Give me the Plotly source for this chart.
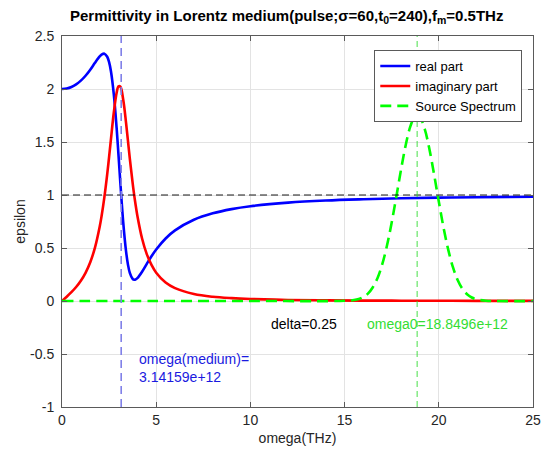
import plotly.graph_objects as go

# Lorentz-medium permittivity sampled over angular frequency (THz)
omega = [0, 0.25, 0.5, 0.75, 1.0, 1.25, 1.5, 1.75, 2.0, 2.1, 2.25, 2.4, 2.5, 2.6,
         2.75, 2.9, 3.0, 3.1, 3.25, 3.4, 3.5, 3.6, 3.75, 3.8, 3.9, 4.0, 4.25, 4.5,
         4.75, 5.0, 5.5, 6.0, 7.0, 8.0, 9.0, 10.0, 12.0, 14.0, 16.0, 18.0, 20.0,
         22.0, 25.0]
eps_real = [2.0, 2.005, 2.019, 2.044, 2.079, 2.125, 2.182, 2.247, 2.307, 2.324,
            2.333, 2.304, 2.253, 2.165, 1.950, 1.630, 1.374, 1.108, 0.742, 0.468,
            0.345, 0.266, 0.208, 0.202, 0.202, 0.215, 0.276, 0.350, 0.422, 0.486,
            0.590, 0.666, 0.766, 0.827, 0.867, 0.894, 0.928, 0.948, 0.960, 0.969,
            0.975, 0.979, 0.984]
eps_imag = [0.0, 0.040, 0.083, 0.132, 0.191, 0.266, 0.366, 0.503, 0.700, 0.800,
            0.980, 1.196, 1.359, 1.530, 1.778, 1.965, 2.025, 2.021, 1.898, 1.680,
            1.512, 1.344, 1.112, 1.042, 0.915, 0.805, 0.590, 0.442, 0.340, 0.267,
            0.174, 0.121, 0.066, 0.040, 0.027, 0.019, 0.010, 0.006, 0.004, 0.003,
            0.002, 0.0015, 0.001]

# Source spectrum of the Gaussian pulse
omega_src = [0, 5, 10, 15.0, 15.5, 15.75, 16.0, 16.25, 16.5, 16.75, 17.0, 17.25,
             17.5, 17.75, 18.0, 18.25, 18.5, 18.75, 19.0, 19.25, 19.5, 19.75,
             20.0, 20.25, 20.5, 20.75, 21.0, 21.25, 21.5, 21.75, 22.0, 22.5, 25.0]
spectrum = [0, 0, 0, 0.002, 0.009, 0.019, 0.038, 0.072, 0.130, 0.218, 0.348,
            0.523, 0.741, 0.989, 1.244, 1.476, 1.652, 1.742, 1.732, 1.623, 1.434,
            1.194, 0.938, 0.694, 0.485, 0.319, 0.198, 0.116, 0.064, 0.033, 0.016,
            0.003, 0]

omega_medium = 3.14159
omega0 = 18.8496
delta = 0.25
x_range = [0, 25]
y_range = [-1, 2.5]
x_ticks = [0, 5, 10, 15, 20, 25]
x_tick_labels = ["0", "5", "10", "15", "20", "25"]
y_ticks = [-1, -0.5, 0, 0.5, 1, 1.5, 2, 2.5]
y_tick_labels = ["-1", "-0.5", "0", "0.5", "1", "1.5", "2", "2.5"]

FONT = "Liberation Sans, Arial, sans-serif"

fig = go.Figure()
fig.add_trace(go.Scatter(x=omega, y=eps_real, mode="lines", name="real part",
                         line=dict(color="#0000ff", width=2.6, shape="spline")))
fig.add_trace(go.Scatter(x=omega, y=eps_imag, mode="lines", name="imaginary part",
                         line=dict(color="#ff0000", width=2.6, shape="spline")))
fig.add_trace(go.Scatter(x=omega_src, y=spectrum, mode="lines", name="Source Spectrum",
                         line=dict(color="#00ff00", width=2.6, dash="11px,6px",
                                   shape="spline")))

# reference lines: eps = 1, resonance frequency, pulse centre frequency
fig.add_trace(go.Scatter(x=x_range, y=[1, 1], mode="lines", showlegend=False,
                         line=dict(color="#000000", width=0.9, dash="7px,4px")))
fig.add_trace(go.Scatter(x=[omega_medium, omega_medium], y=y_range, mode="lines",
                         showlegend=False,
                         line=dict(color="#8080e8", width=1.6, dash="8px,5px")))
fig.add_trace(go.Scatter(x=[omega0, omega0], y=y_range, mode="lines",
                         showlegend=False,
                         line=dict(color="#33dd33", width=0.9, dash="6px,4px")))

fig.add_annotation(x=3.96, y=-0.63, xref="x", yref="y", xanchor="left",
                   yanchor="middle", showarrow=False, align="left",
                   text="omega(medium)=<br>%ge+12" % omega_medium,
                   font=dict(color="#1a1ae0", size=14, family=FONT))
fig.add_annotation(x=11.0, y=-0.215, xref="x", yref="y", xanchor="left",
                   yanchor="middle", showarrow=False,
                   text="delta=%g" % delta,
                   font=dict(color="#000000", size=14, family=FONT))
fig.add_annotation(x=16.1, y=-0.215, xref="x", yref="y", xanchor="left",
                   yanchor="middle", showarrow=False,
                   text="omega0=%ge+12" % omega0,
                   font=dict(color="#33dd33", size=14, family=FONT))

axis_common = dict(
    showgrid=True, gridcolor="#e3e3e3", gridwidth=1,
    showline=True, linecolor="#5a5a5a", linewidth=1, mirror="ticks",
    ticks="inside", ticklen=5, tickcolor="#5a5a5a", zeroline=False,
    automargin=False,
    tickfont=dict(size=14, color="#262626", family=FONT),
)

fig.update_layout(
    width=542, height=453,
    margin=dict(l=62, r=9, t=36, b=46),
    paper_bgcolor="white", plot_bgcolor="white",
    title=dict(
        text="<b>Permittivity in Lorentz medium(pulse;σ=60,t<sub>0</sub>=240),"
             "f<sub>m</sub>=0.5THz</b>",
        x=0.529, xanchor="center", y=0.965, yanchor="middle",
        font=dict(size=15, color="#000000", family=FONT)),
    xaxis=dict(range=x_range, tickvals=x_ticks, ticktext=x_tick_labels,
               title=dict(text="omega(THz)", standoff=6,
                          font=dict(size=14, color="#262626", family=FONT)),
               **axis_common),
    yaxis=dict(range=y_range, tickvals=y_ticks, ticktext=y_tick_labels,
               ticklabelstandoff=4,
               title=dict(text="epsilon", standoff=1,
                          font=dict(size=14, color="#262626", family=FONT)),
               **axis_common),
    legend=dict(x=0.663, y=0.962, xanchor="left", yanchor="top",
                bgcolor="white", bordercolor="#5a5a5a", borderwidth=1,
                itemwidth=30, tracegroupgap=0,
                font=dict(size=13, color="#000000", family=FONT)),
    showlegend=True,
)

fig.write_html("out.html")
